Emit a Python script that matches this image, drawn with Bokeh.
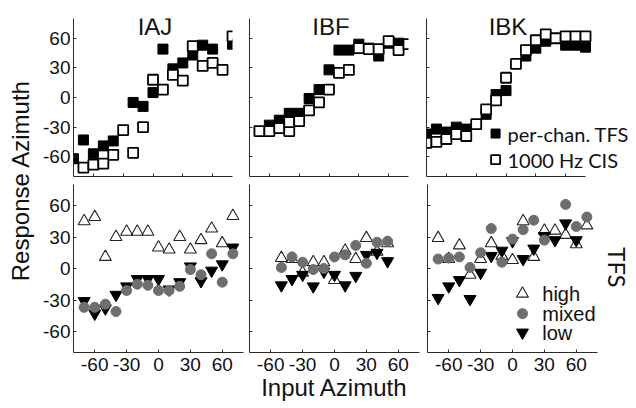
import math
from bokeh.plotting import figure
from bokeh.layouts import row, column
from bokeh.models import FixedTicker, Label, CustomJSTickFormatter, Range1d
from bokeh.embed import file_html
from bokeh.resources import INLINE

# ---------------- data ----------------
subjects = ["IAJ", "IBF", "IBK"]
tick_values = [-60, -30, 0, 30, 60]
tick_labels = ["-60", "-30", "0", "30", "60"]
legend_top = ["per-chan. TFS", "1000 Hz CIS"]
legend_bottom = ["high", "mixed", "low"]

# top row: per-channel TFS (filled squares) and 1000 Hz CIS (open squares)
iaj_tfs_x = [-80, -70, -60, -50, -40, -20, -10, 0, 10, 20, 30, 40, 50, 60, 80]
iaj_tfs_y = [-62, -43, -57, -49, -44, -5, -9, 5, 49, 29, 35, 43, 53, 49, 54]
iaj_cis_x = [-70, -60, -50, -40, -30, -20, -10, 0, 10, 20, 30, 40, 50, 60, 70, 80]
iaj_cis_y = [-71, -68, -67, -58, -33, -56, -30, 18, 8, 23, 17, 52, 32, 35, 28, 62]

ibf_tfs_x = [-60, -50, -40, -30, -20, -10, 0, 10, 20, 30, 40, 50, 60, 70]
ibf_tfs_y = [-28, -23, -16, -16, -1, 8, 28, 48, 48, 54, 50, 42, 55, 55]
ibf_cis_x = [-70, -60, -50, -40, -40, -30, -20, -10, 0, 10, 20, 30, 40, 50, 60, 70, 80]
ibf_cis_y = [-34, -34, -31, -34, -25, -24, -13, -5, 8, 25, 28, 50, 49, 49, 57, 48, 54]

ibk_tfs_x = [-80, -70, -60, -50, -40, -20, -10, 0, 20, 30, 40, 60, 70, 80]
ibk_tfs_y = [-37, -32, -35, -30, -32, -17, 3, 7, 42, 50, 57, 53, 53, 51]
ibk_cis_x = [-80, -70, -60, -50, -40, -30, -20, -10, 0, 10, 20, 30, 40, 50, 60, 70, 80]
ibk_cis_y = [-46, -45, -42, -37, -39, -27, -12, -3, 20, 34, 48, 58, 64, 60, 62, 62, 62]

# bottom row: TFS high / mixed / low
iaj_x = [-70, -60, -50, -40, -30, -20, -10, 0, 10, 20, 30, 40, 50, 60, 70]
iaj_high = [45, 49, 11, 30, 35, 35, 35, 20, 18, 30, 18, 27, 38, 24, 50]
iaj_mixed = [-37, -37, -34, -41, -21, -15, -16, -21, -21, -17, -1, -6, 14, -13, 14]
iaj_low = [-31, -43, -38, -25, -17, -10, -10, -10, -20, -13, 2, -12, -2, 4, 20]

ibf_x = [-50, -40, -30, -20, -10, 0, 10, 20, 30, 40, 50]
ibf_high = [10, 9, -4, 6, 6, -11, 17, 9, 29, 16, 24]
ibf_mixed = [1, 11, 6, -1, 0, 11, 13, 22, 5, 25, 26]
ibf_low = [-16, -10, -6, -17, -3, -6, -16, -7, 13, 15, 7]

ibk_high_x = [-70, -60, -50, -40, -30, -20, -10, 0, 10, 20, 30, 40, 50, 60, 70]
ibk_high = [29, 9, 22, -6, 9, 24, 12, 8, 45, 11, 36, 36, 32, 23, 41]
ibk_mixed_x = [-70, -60, -50, -40, -30, -20, -10, 0, 10, 20, 30, 50, 60, 70]
ibk_mixed = [9, 10, 11, 1, 15, 38, 6, 28, 37, 46, 27, 61, 40, 49]
ibk_low_x = [-70, -60, -50, -40, -30, -20, -10, 0, 10, 20, 30, 40, 50, 60]
ibk_low = [-28, -17, -11, -29, -4, 12, 17, 26, 9, 19, 31, 27, 43, 27]

# ---------------- styling ----------------
AX = "#2a2a2a"
GRAY = "#6e6e6e"
TICK_FONT = "Liberation Sans"


def make_panel(w, h, bl, br, bt, bb, xlab, ylab, x_end=80):
    p = figure(width=w, height=h, x_range=Range1d(-80, x_end), y_range=Range1d(-80, 80),
               output_backend="svg", toolbar_location=None,
               min_border_left=bl, min_border_right=br,
               min_border_top=bt, min_border_bottom=bb)
    p.outline_line_color = None
    p.grid.visible = False
    for ax, show in ((p.xaxis[0], xlab), (p.yaxis[0], ylab)):
        ax.ticker = FixedTicker(ticks=tick_values)
        ax.bounds = (-80, 80)
        ax.major_tick_in = 3
        ax.major_tick_out = 0
        ax.minor_tick_line_color = None
        ax.axis_line_color = AX
        ax.major_tick_line_color = AX
        if show:
            ax.major_label_overrides = {v: t for v, t in zip(tick_values, tick_labels)}
            ax.major_label_text_font = TICK_FONT
            ax.major_label_text_font_size = "19px"
            ax.major_label_text_color = "#111111"
        else:
            ax.formatter = CustomJSTickFormatter(code="return ''")
            ax.major_label_text_font_size = "0px"
            ax.major_label_standoff = 0
    p.xaxis[0].major_label_standoff = 5 if xlab else 0
    p.yaxis[0].major_label_standoff = 3 if ylab else 0
    return p


def top_panel(p, tx, ty, cx, cy, title):
    p.scatter(tx, ty, marker="square", size=10, fill_color="black", line_color="black")
    p.scatter(cx, cy, marker="square", size=10, fill_color="white", line_color="black",
              line_width=1.8)
    p.add_layout(Label(x=2, y=72, text=title, text_font="Liberation Sans",
                       text_font_size="24px", text_align="center",
                       text_baseline="alphabetic", text_color="#111111"))


def bottom_panel(p, hx, hy, mx, my, lx, ly):
    p.scatter(hx, hy, marker="triangle", size=12, fill_color="white", fill_alpha=0.0,
              line_color="#222222", line_width=1.1)
    p.scatter(lx, ly, marker="inverted_triangle", size=12, fill_color="black",
              line_color="black")
    p.scatter(mx, my, marker="circle", size=10, fill_color=GRAY, line_color=GRAY)


# top row (the IBK frame runs on to the right edge so the legend text fits)
t1 = make_panel(205, 180, 33, 13, 18, 4, False, True)
t2 = make_panel(176, 180, 4, 13, 18, 4, False, False)
t3 = make_panel(215, 180, 5, 0, 18, 4, False, False, x_end=131.3)
top_panel(t1, iaj_tfs_x, iaj_tfs_y, iaj_cis_x, iaj_cis_y, subjects[0])
top_panel(t2, ibf_tfs_x, ibf_tfs_y, ibf_cis_x, ibf_cis_y, subjects[1])
top_panel(t3, ibk_tfs_x, ibk_tfs_y, ibk_cis_x, ibk_cis_y, subjects[2])

# legend of top row (in IBK panel)
t3.scatter([-10.5], [-36.5], marker="square", size=9, fill_color="black", line_color="black")
t3.scatter([-10.5], [-63], marker="square", size=9, fill_color="white", line_color="black",
           line_width=1.8)
for yy, txt in zip([-36.5, -63], legend_top):
    t3.add_layout(Label(x=1.5, y=yy, text=txt, text_font="Lato", text_font_size="20px",
                        text_baseline="middle", text_align="left", text_color="#111111"))

# bottom row
b1 = make_panel(205, 228, 33, 2, 4, 56, True, True)
b2 = make_panel(177, 228, 4, 3, 4, 56, True, False)
b3 = make_panel(214, 228, 5, 0, 4, 56, True, False, x_end=116.7)
bottom_panel(b1, iaj_x, iaj_high, iaj_x, iaj_mixed, iaj_x, iaj_low)
bottom_panel(b2, ibf_x, ibf_high, ibf_x, ibf_mixed, ibf_x, ibf_low)
bottom_panel(b3, ibk_high_x, ibk_high, ibk_mixed_x, ibk_mixed, ibk_low_x, ibk_low)

# legend of bottom row (in IBK panel)
b3.scatter([9.4], [-24], marker="triangle", size=12, fill_alpha=0.0, line_color="#222222",
           line_width=1.1)
b3.scatter([9.4], [-43], marker="circle", size=10, fill_color=GRAY, line_color=GRAY)
b3.scatter([9.4], [-61], marker="inverted_triangle", size=12, fill_color="black",
           line_color="black")
for yy, txt in zip([-24, -43, -61], legend_bottom):
    b3.add_layout(Label(x=28, y=yy, text=txt, text_font="Liberation Sans",
                        text_font_size="20px", text_baseline="middle", text_align="left",
                        text_color="#111111"))

# "TFS" row label on the right
b3.add_layout(Label(x=98.5, y=1, text="TFS", text_font="Lato", text_font_size="24px",
                    angle=-math.pi / 2, text_align="center", text_baseline="middle",
                    text_color="#111111"))

# x axis title
b2.xaxis[0].axis_label = "Input Azimuth"
b2.xaxis[0].axis_label_text_font = "Liberation Sans"
b2.xaxis[0].axis_label_text_font_size = "24px"
b2.xaxis[0].axis_label_text_font_style = "normal"
b2.xaxis[0].axis_label_text_color = "#111111"
b2.xaxis[0].axis_label_standoff = 0

# left strip with y axis title
strip = figure(width=40, height=408, x_range=Range1d(0, 40), y_range=Range1d(0, 408),
               output_backend="svg", toolbar_location=None, min_border=0)
strip.axis.visible = False
strip.grid.visible = False
strip.outline_line_color = None
strip.add_layout(Label(x=20, y=228, text="Response Azimuth", text_font="Liberation Sans",
                       text_font_size="24px", angle=math.pi / 2, text_align="center",
                       text_baseline="middle", text_color="#111111"))

layout = row(strip, column(row(t1, t2, t3), row(b1, b2, b3)))

open("out.html", "w").write(file_html(layout, INLINE))
